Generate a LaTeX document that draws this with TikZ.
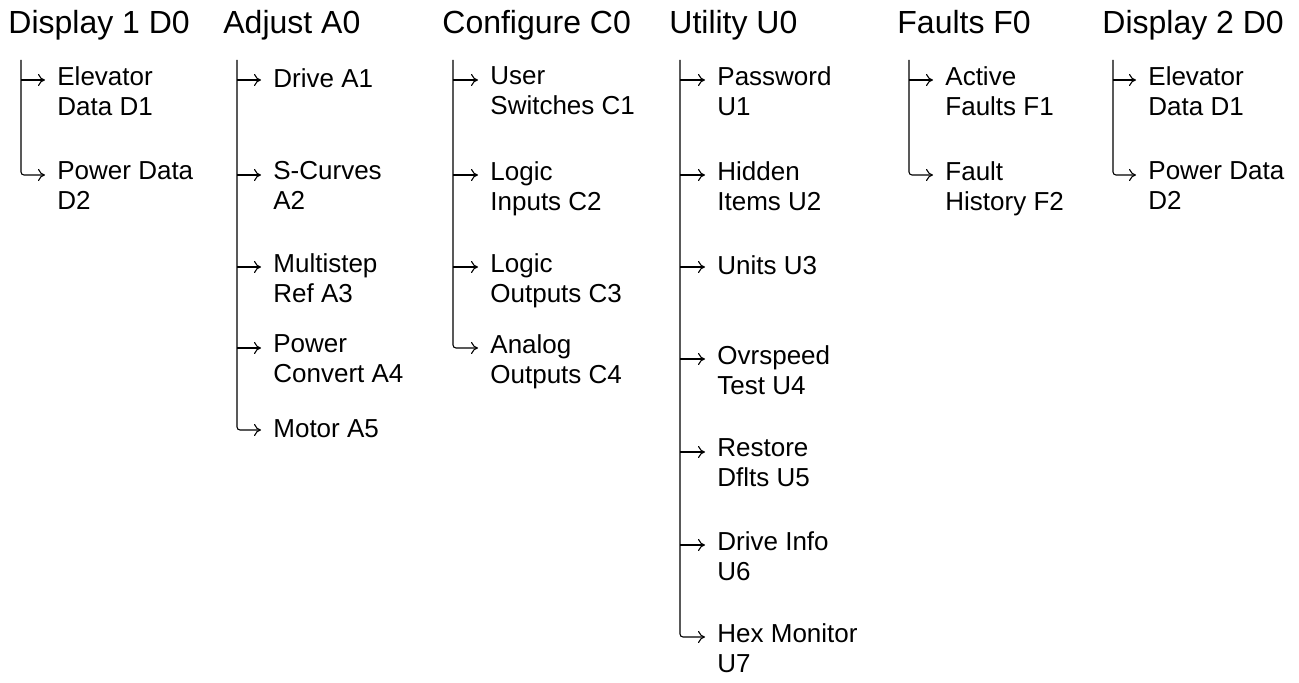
\documentclass[tikz,border=0pt]{standalone}
\usepackage{fontspec}
\setmainfont{Liberation Sans}
\usetikzlibrary{arrows.meta}

\tikzset{
  menu/.style={anchor=base west, inner sep=0pt, font=\fontsize{16}{19}\selectfont},
  item/.style={anchor=north west, inner sep=0pt, align=left, font=\fontsize{13}{15}\selectfont,
    execute at begin node=\strut},
  trunk/.style={line width=0.9pt},
  branch/.style={line width=0.55pt, -{To[length=3.5pt,width=6pt]}},
}

\begin{document}
\begin{tikzpicture}[x=0.5pt,y=-0.5pt]
\useasboundingbox (0,0) rectangle (1299,683);

% Display 1
\node[menu] (dsa) at (8,34) {Display 1 D0};
\coordinate (dsatop) at (21,60);
\node[item] (dsa1) at (57,66) {Elevator\\Data D1};
\node[item] (dsa2) at (57,161) {Power Data\\D2};

% Adjust
\node[menu] (adj) at (223,34) {Adjust A0};
\coordinate (adjtop) at (237,60);
\node[item] (adj1) at (273,66) {Drive A1};
\node[item] (adj2) at (273,161) {S-Curves\\A2};
\node[item] (adj3) at (273,253) {Multistep\\Ref A3};
\node[item] (adj4) at (273,334) {Power\\Convert A4};
\node[item] (adj5) at (273,416) {Motor A5};

% Configure
\node[menu] (cfg) at (442,34) {Configure C0};
\coordinate (cfgtop) at (453,60);
\node[item] (cfg1) at (490,66) {User\\Switches C1};
\node[item] (cfg2) at (490,161) {Logic\\Inputs C2};
\node[item] (cfg3) at (490,253) {Logic\\Outputs C3};
\node[item] (cfg4) at (490,334) {Analog\\Outputs C4};

% Utility
\node[menu] (utl) at (669,34) {Utility U0};
\coordinate (utltop) at (680,60);
\node[item] (utl1) at (717,66) {Password\\U1};
\node[item] (utl2) at (717,161) {Hidden\\Items U2};
\node[item] (utl3) at (717,253) {Units U3};
\node[item] (utl4) at (717,345) {Ovrspeed\\Test U4};
\node[item] (utl5) at (717,438) {Restore\\Dflts U5};
\node[item] (utl6) at (717,531) {Drive Info\\U6};
\node[item] (utl7) at (717,623) {Hex Monitor\\U7};

% Faults
\node[menu] (flt) at (897,34) {Faults F0};
\coordinate (flttop) at (909,60);
\node[item] (flt1) at (945,66) {Active\\Faults F1};
\node[item] (flt2) at (945,161) {Fault\\History F2};

% Display 2
\node[menu] (dsb) at (1102,34) {Display 2 D0};
\coordinate (dsbtop) at (1113,60);
\node[item] (dsb1) at (1148,66) {Elevator\\Data D1};
\node[item] (dsb2) at (1148,161) {Power Data\\D2};

% branches
\foreach \col/\n in {dsa/1, adj/1, adj/2, adj/3, adj/4, cfg/1, cfg/2, cfg/3,
                     utl/1, utl/2, utl/3, utl/4, utl/5, utl/6, flt/1, dsb/1} {
  \draw[branch] ([yshift=-7pt]\col top |- \col\n.north west) -- ([xshift=-6pt,yshift=-7pt]\col\n.north west);
}

% trunks, ending in the last branch
\foreach \col/\n in {dsa/2, adj/5, cfg/4, utl/7, flt/2, dsb/2} {
  \draw[trunk, branch, rounded corners=1.5pt] (\col top) |- ([xshift=-6pt,yshift=-7pt]\col\n.north west);
}

\end{tikzpicture}
\end{document}
